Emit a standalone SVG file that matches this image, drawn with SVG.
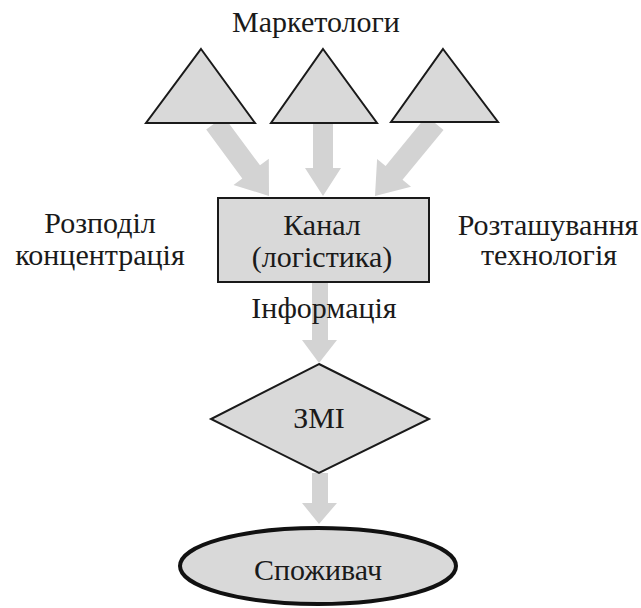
<svg xmlns="http://www.w3.org/2000/svg" width="641" height="608" viewBox="0 0 641 608">
<style>
.shape{fill:#d9d9d9;stroke:#1a1a1a;stroke-width:2}
.arrow{fill:#d3d3d3;stroke:none}
text{font-family:"Liberation Serif","Times New Roman",serif;font-size:30px;fill:#1a1a1a;text-anchor:middle}
</style>
<rect width="641" height="608" fill="#ffffff"/>
<g id="connectors">
<polygon class="arrow" points="206.2,129.5 223.8,116.5 260.0,165.3 268.8,158.8 269,196 233.5,185.0 242.3,178.4"/>
<polygon class="arrow" points="313,123 333,123 333,168 341,168 323,196 305,168 313,168"/>
<polygon class="arrow" points="426.5,116.0 443.5,130.0 402.5,179.8 411.0,186.8 375,196 377.1,158.9 385.6,165.9"/>
<polygon class="arrow" points="312,282 328,282 328,340 337,340 319,363 302,340 312,340"/>
<polygon class="arrow" points="312,473 328,473 328,503 337,503 319,524 302,503 312,503"/>
</g>
<g id="node-marketers-label"><text x="316" y="32">Маркетологи</text></g>
<g id="node-tri1"><polygon class="shape" points="201,49 255,123 146,123"/></g>
<g id="node-tri2"><polygon class="shape" points="323,49 377,123 271,123"/></g>
<g id="node-tri3"><polygon class="shape" points="443,49 498,122 391,122"/></g>
<g id="node-channel">
<rect class="shape" x="218" y="198" width="211" height="84"/>
<text x="322" y="235">Канал</text>
<text x="322" y="267">(логістика)</text>
</g>
<g id="node-left-label"><text x="100" y="233">Розподіл</text><text x="100" y="265">концентрація</text></g>
<g id="node-right-label"><text x="548" y="235">Розташування</text><text x="549" y="265">технологія</text></g>
<g id="node-info-label"><text x="324" y="318">Інформація</text></g>
<g id="node-media">
<polygon class="shape" points="319,364 429,419 319,473 211,419"/>
<text x="319" y="428">ЗМІ</text>
</g>
<g id="node-consumer">
<ellipse cx="318" cy="566" rx="138" ry="38" fill="#d9d9d9" stroke="#111" stroke-width="4"/>
<text x="318" y="580">Споживач</text>
</g>
</svg>
